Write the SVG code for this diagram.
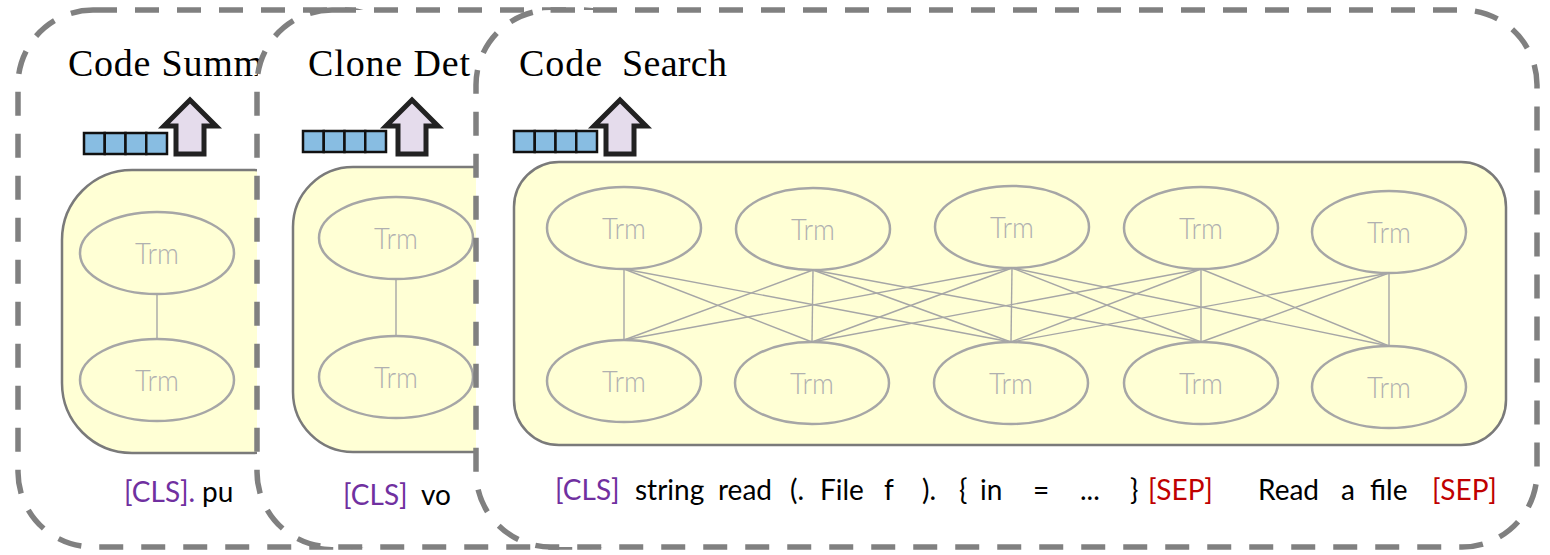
<svg xmlns="http://www.w3.org/2000/svg" width="1550" height="555" viewBox="0 0 1550 555">
  <style>
    .panel{fill:#fff;stroke:#808080;stroke-width:5.5;stroke-dasharray:24 18}
    .enc{fill:#FFFFD5;stroke:#7a7a7a;stroke-width:2.5}
    .trm ellipse{fill:none;stroke:#a6a6a6;stroke-width:2.5}
    .trm text{font-family:Lato,"Open Sans",sans-serif;font-weight:300;font-size:29px;fill:#b0b0b0;text-anchor:middle}
    .links line{stroke:#a6a6a6;stroke-width:1.4}
    .title{font-family:"Liberation Serif",serif;font-size:38px;fill:#000}
    .tok{font-family:Lato,"Open Sans",sans-serif;font-size:28px;fill:#000}
    .cls{fill:#7030A0}
    .sep{fill:#C00000}
    .arrow{fill:#E5DCEC;stroke:#222;stroke-width:5;stroke-linejoin:miter}
    .cell{fill:#88BDE2;stroke:#111;stroke-width:2.5}
  </style>
  <defs>
    <!-- hollow up arrow, tip at origin -->
    <path id="up" class="arrow" d="M0,0 L26,26 L14,26 L14,54 L-14,54 L-14,26 L-26,26 Z"/>
    <!-- four-cell output vector -->
    <g id="vec">
      <rect class="cell" x="0" y="0" width="20.75" height="21"/>
      <rect class="cell" x="20.75" y="0" width="20.75" height="21"/>
      <rect class="cell" x="41.5" y="0" width="20.75" height="21"/>
      <rect class="cell" x="62.25" y="0" width="20.75" height="21"/>
    </g>
  </defs>

  <!-- Task 1: code summarization -->
  <g id="task-summarization">
    <rect class="panel" x="18" y="10" width="400" height="537" rx="75"/>
    <rect class="enc" x="62" y="170" width="260" height="283" rx="70"/>
    <g id="sum-top" class="trm"><ellipse cx="157" cy="253" rx="77" ry="41"/><text x="157" y="264" textLength="44" lengthAdjust="spacingAndGlyphs">Trm</text></g>
    <g id="sum-bottom" class="trm"><ellipse cx="157" cy="380" rx="77" ry="41"/><text x="157" y="391" textLength="44" lengthAdjust="spacingAndGlyphs">Trm</text></g>
    <use href="#vec" x="84" y="133"/>
    <use href="#up" x="190" y="100"/>
    <text class="title" x="68" y="76" textLength="195" lengthAdjust="spacing">Code Summ</text>
    <text class="tok" y="502"><tspan class="cls" x="124">[CLS].</tspan><tspan x="202">pu</tspan></text>
  </g>

  <!-- Task 2: clone detection -->
  <g id="task-clone">
    <rect class="panel" x="257" y="10" width="400" height="537" rx="75"/>
    <rect class="enc" x="293" y="167" width="260" height="285" rx="60"/>
    <g id="clone-top" class="trm"><ellipse cx="396" cy="238" rx="77" ry="41"/><text x="396" y="249" textLength="44" lengthAdjust="spacingAndGlyphs">Trm</text></g>
    <g id="clone-bottom" class="trm"><ellipse cx="396" cy="377" rx="77" ry="41"/><text x="396" y="388" textLength="44" lengthAdjust="spacingAndGlyphs">Trm</text></g>
    <use href="#vec" x="303" y="131"/>
    <use href="#up" x="412" y="100"/>
    <text class="title" x="308" y="76" textLength="162" lengthAdjust="spacing">Clone Det</text>
    <text class="tok" y="505"><tspan class="cls" x="343">[CLS]</tspan><tspan x="421">vo</tspan></text>
  </g>

  <!-- Task 3: code search -->
  <g id="task-search">
    <rect class="panel" x="476" y="10" width="1061" height="537" rx="75"/>
    <rect class="enc" x="514" y="162" width="992" height="283" rx="45"/>
    <g id="s-t1" class="trm"><ellipse cx="624" cy="228" rx="77" ry="41"/><text x="624" y="239" textLength="44" lengthAdjust="spacingAndGlyphs">Trm</text></g>
    <g id="s-t2" class="trm"><ellipse cx="813" cy="229" rx="77" ry="41"/><text x="813" y="240" textLength="44" lengthAdjust="spacingAndGlyphs">Trm</text></g>
    <g id="s-t3" class="trm"><ellipse cx="1012" cy="227" rx="77" ry="41"/><text x="1012" y="238" textLength="44" lengthAdjust="spacingAndGlyphs">Trm</text></g>
    <g id="s-t4" class="trm"><ellipse cx="1201" cy="228" rx="77" ry="41"/><text x="1201" y="239" textLength="44" lengthAdjust="spacingAndGlyphs">Trm</text></g>
    <g id="s-t5" class="trm"><ellipse cx="1389" cy="232" rx="77" ry="41"/><text x="1389" y="243" textLength="44" lengthAdjust="spacingAndGlyphs">Trm</text></g>
    <g id="s-b1" class="trm"><ellipse cx="624" cy="381" rx="77" ry="41"/><text x="624" y="392" textLength="44" lengthAdjust="spacingAndGlyphs">Trm</text></g>
    <g id="s-b2" class="trm"><ellipse cx="812" cy="383" rx="77" ry="41"/><text x="812" y="394" textLength="44" lengthAdjust="spacingAndGlyphs">Trm</text></g>
    <g id="s-b3" class="trm"><ellipse cx="1011" cy="383" rx="77" ry="41"/><text x="1011" y="394" textLength="44" lengthAdjust="spacingAndGlyphs">Trm</text></g>
    <g id="s-b4" class="trm"><ellipse cx="1201" cy="383" rx="77" ry="41"/><text x="1201" y="394" textLength="44" lengthAdjust="spacingAndGlyphs">Trm</text></g>
    <g id="s-b5" class="trm"><ellipse cx="1389" cy="387" rx="77" ry="41"/><text x="1389" y="398" textLength="44" lengthAdjust="spacingAndGlyphs">Trm</text></g>
    <use href="#vec" x="514" y="131"/>
    <use href="#up" x="620" y="100"/>
    <text class="title" y="76"><tspan x="519" textLength="83" lengthAdjust="spacing">Code</tspan><tspan x="622" textLength="105" lengthAdjust="spacing">Search</tspan></text>
    <text class="tok" y="500"><tspan class="cls" x="555">[CLS]</tspan><tspan x="635">string</tspan><tspan x="718">read</tspan><tspan x="790">(.</tspan><tspan x="820">File</tspan><tspan x="884">f</tspan><tspan x="922">).</tspan><tspan x="959">{</tspan><tspan x="980">in</tspan><tspan x="1033">=</tspan><tspan x="1080">...</tspan><tspan x="1130">}</tspan><tspan class="sep" x="1148">[SEP]</tspan><tspan x="1258">Read</tspan><tspan x="1341">a</tspan><tspan x="1370">file</tspan><tspan class="sep" x="1432">[SEP]</tspan></text>
  </g>

  <!-- attention links between Transformer layers -->
  <g id="connectors" class="links">
    <line x1="157" y1="294" x2="157" y2="339"/>
    <line x1="396" y1="279" x2="396" y2="336"/>
    <!-- top i to bottom j, |i-j| <= 2 -->
    <line x1="624" y1="269" x2="624" y2="340"/>
    <line x1="624" y1="269" x2="812" y2="342"/>
    <line x1="624" y1="269" x2="1011" y2="342"/>
    <line x1="813" y1="270" x2="624" y2="340"/>
    <line x1="813" y1="270" x2="812" y2="342"/>
    <line x1="813" y1="270" x2="1011" y2="342"/>
    <line x1="813" y1="270" x2="1201" y2="342"/>
    <line x1="1012" y1="268" x2="624" y2="340"/>
    <line x1="1012" y1="268" x2="812" y2="342"/>
    <line x1="1012" y1="268" x2="1011" y2="342"/>
    <line x1="1012" y1="268" x2="1201" y2="342"/>
    <line x1="1012" y1="268" x2="1389" y2="346"/>
    <line x1="1201" y1="269" x2="812" y2="342"/>
    <line x1="1201" y1="269" x2="1011" y2="342"/>
    <line x1="1201" y1="269" x2="1201" y2="342"/>
    <line x1="1201" y1="269" x2="1389" y2="346"/>
    <line x1="1389" y1="273" x2="1011" y2="342"/>
    <line x1="1389" y1="273" x2="1201" y2="342"/>
    <line x1="1389" y1="273" x2="1389" y2="346"/>
  </g>
</svg>
